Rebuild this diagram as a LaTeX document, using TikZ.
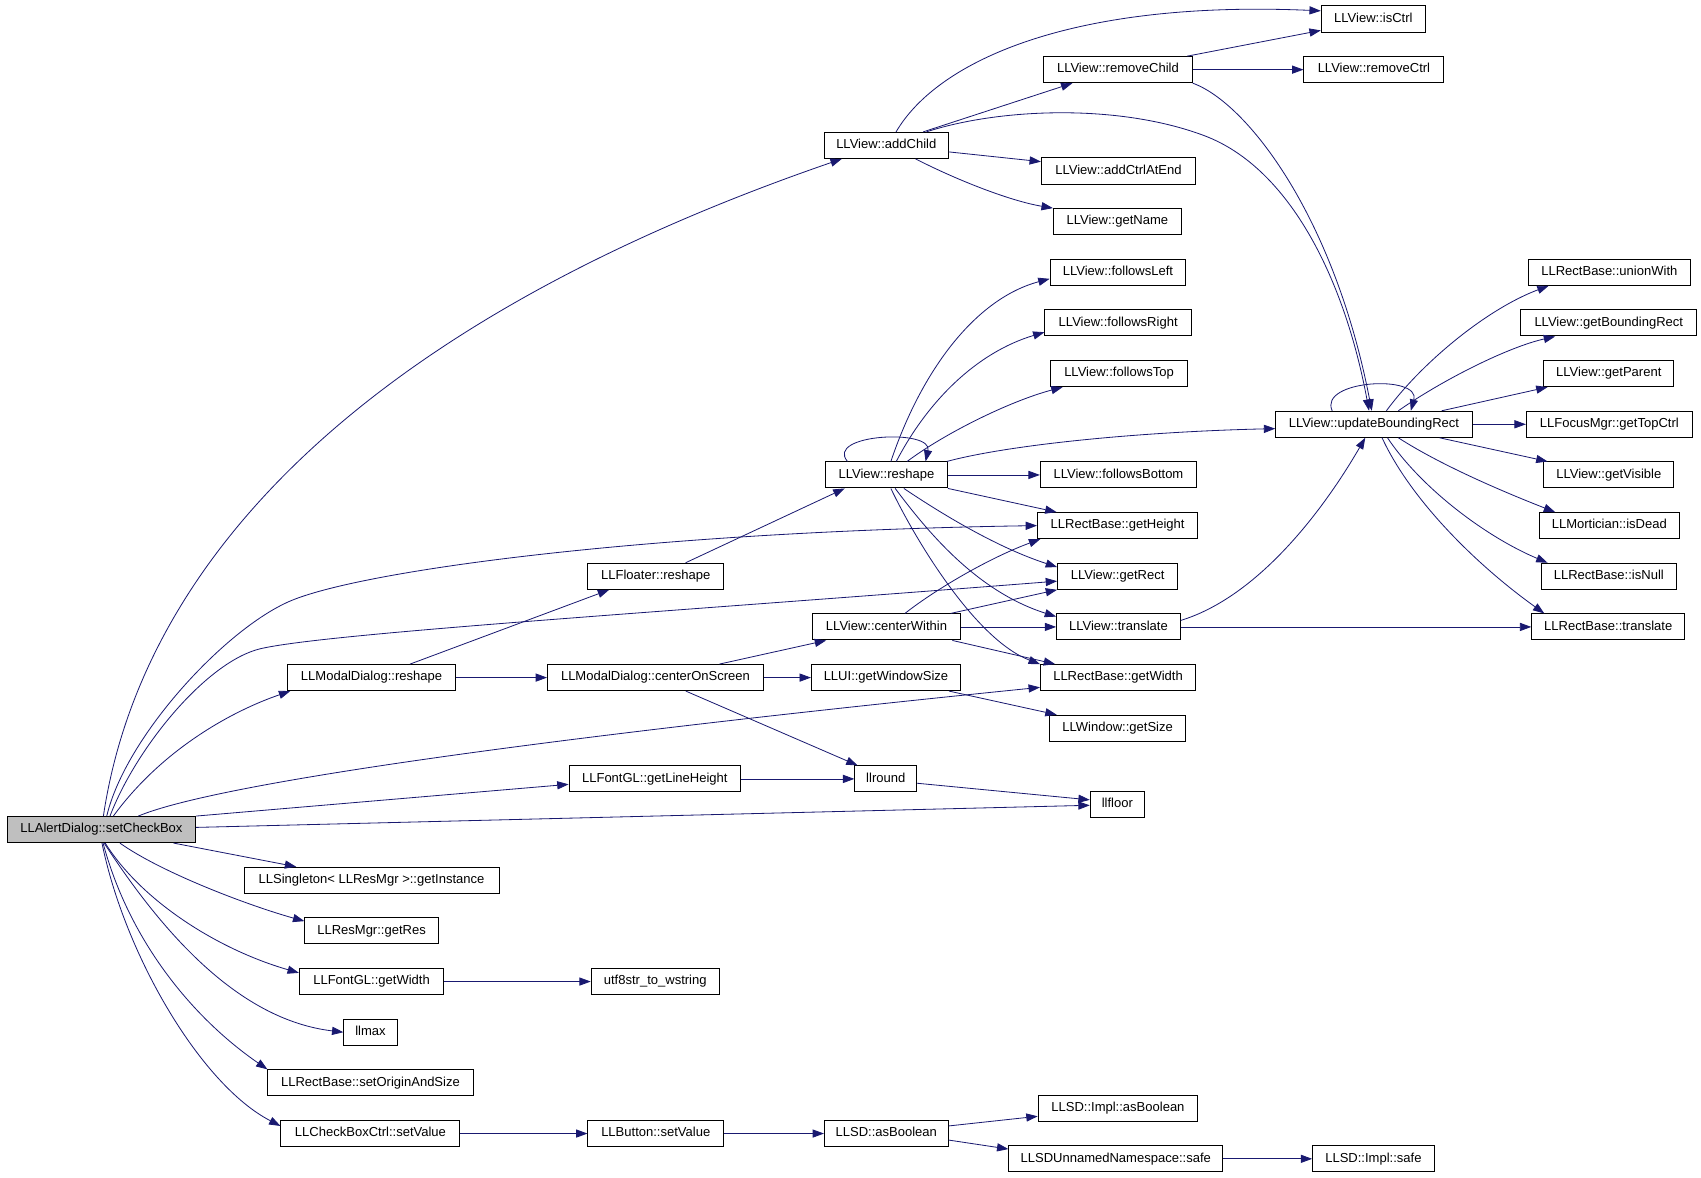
\documentclass[tikz,border=0pt]{standalone}
\usepackage{fontspec}
\setmainfont{Liberation Sans}
\usetikzlibrary{arrows.meta,calc}
\definecolor{edgec}{RGB}{25,25,112}
\definecolor{rootfill}{RGB}{191,191,191}
\tikzset{
  fn/.style={draw=black, line width=0.9pt, rectangle, minimum height=24pt,
    inner xsep=2pt, inner ysep=0pt, text height=8.7pt, text depth=2.6pt,
    font=\fontsize{12}{14}\selectfont, anchor=center},
  rootfn/.style={fn, fill=rootfill},
  call/.style={draw=edgec, line width=0.75pt, -{Triangle[length=10.5pt,width=7.5pt]}}
}
\begin{document}
\begin{tikzpicture}[x=1pt,y=-1pt]
\useasboundingbox (0,0) rectangle (1568,1085);
% nodes
\node[rootfn, minimum width=173.5pt] (S) at (93.5,764.7) {LLAlertDialog::setCheckBox};
\node[fn, minimum width=114pt] (addChild) at (817,134) {LLView::addChild};
\node[fn, minimum width=96pt] (isCtrl) at (1266,17.5) {LLView::isCtrl};
\node[fn, minimum width=137pt] (removeChild) at (1030.5,64.2) {LLView::removeChild};
\node[fn, minimum width=129pt] (removeCtrl) at (1266.5,64.2) {LLView::removeCtrl};
\node[fn, minimum width=142pt] (addCtrlAtEnd) at (1031,157.6) {LLView::addCtrlAtEnd};
\node[fn, minimum width=118pt] (getName) at (1030,204.3) {LLView::getName};
\node[fn, minimum width=125pt] (followsLeft) at (1030.5,251) {LLView::followsLeft};
\node[fn, minimum width=135pt] (followsRight) at (1030.75,297.7) {LLView::followsRight};
\node[fn, minimum width=127pt] (followsTop) at (1031.5,344.4) {LLView::followsTop};
\node[fn, minimum width=181pt] (updBR) at (1266.5,391.1) {LLView::updateBoundingRect};
\node[fn, minimum width=149pt] (unionWith) at (1483.5,251) {LLRectBase::unionWith};
\node[fn, minimum width=162pt] (getBR) at (1483,297.7) {LLView::getBoundingRect};
\node[fn, minimum width=120pt] (getParent) at (1483,344.4) {LLView::getParent};
\node[fn, minimum width=153pt] (getTopCtrl) at (1483.5,391.1) {LLFocusMgr::getTopCtrl};
\node[fn, minimum width=112.4pt] (reshape) at (817.2,437.8) {LLView::reshape};
\node[fn, minimum width=144pt] (followsBottom) at (1031,437.8) {LLView::followsBottom};
\node[fn, minimum width=120pt] (getVisible) at (1483,437.8) {LLView::getVisible};
\node[fn, minimum width=147.6pt] (getHeight) at (1030.2,484.5) {LLRectBase::getHeight};
\node[fn, minimum width=129pt] (isDead) at (1483.5,484.5) {LLMortician::isDead};
\node[fn, minimum width=125pt] (floater) at (604.5,531.2) {LLFloater::reshape};
\node[fn, minimum width=110.6pt] (getRect) at (1030.2,531.2) {LLView::getRect};
\node[fn, minimum width=124pt] (isNull) at (1483,531.2) {LLRectBase::isNull};
\node[fn, minimum width=136.4pt] (centerWithin) at (817.2,577.9) {LLView::centerWithin};
\node[fn, minimum width=114pt] (translate) at (1031,577.9) {LLView::translate};
\node[fn, minimum width=141pt] (rtranslate) at (1482.5,577.9) {LLRectBase::translate};
\node[fn, minimum width=155pt] (mreshape) at (342.5,624.6) {LLModalDialog::reshape};
\node[fn, minimum width=199pt] (centerOn) at (604.2,624.6) {LLModalDialog::centerOnScreen};
\node[fn, minimum width=137.4pt] (winSize) at (816.7,624.6) {LLUI::getWindowSize};
\node[fn, minimum width=143pt] (getWidth) at (1030.6,624.6) {LLRectBase::getWidth};
\node[fn, minimum width=125.4pt] (getSize) at (1030.2,671.3) {LLWindow::getSize};
\node[fn, minimum width=158pt] (lineHeight) at (603.6,718) {LLFontGL::getLineHeight};
\node[fn, minimum width=57pt] (llround) at (816.5,718) {llround};
\node[fn, minimum width=50pt] (llfloor) at (1030,741.3) {llfloor};
\node[fn, minimum width=235pt] (getInstance) at (342.5,811.4) {LLSingleton< LLResMgr >::getInstance};
\node[fn, minimum width=123pt] (getRes) at (342.5,858.1) {LLResMgr::getRes};
\node[fn, minimum width=133pt] (fontWidth) at (342.5,904.8) {LLFontGL::getWidth};
\node[fn, minimum width=118pt] (utf8) at (604,904.8) {utf8str\_to\_wstring};
\node[fn, minimum width=49pt] (llmax) at (341.5,951.5) {llmax};
\node[fn, minimum width=189pt] (setOrigin) at (341.5,998.2) {LLRectBase::setOriginAndSize};
\node[fn, minimum width=165pt] (cbSet) at (341.5,1044.9) {LLCheckBoxCtrl::setValue};
\node[fn, minimum width=125pt] (btnSet) at (604.5,1044.9) {LLButton::setValue};
\node[fn, minimum width=114pt] (asBool) at (817,1044.9) {LLSD::asBoolean};
\node[fn, minimum width=147pt] (implAsBool) at (1030.5,1021.5) {LLSD::Impl::asBoolean};
\node[fn, minimum width=197pt] (unSafe) at (1028.5,1068.2) {LLSDUnnamedNamespace::safe};
\node[fn, minimum width=112pt] (implSafe) at (1266,1068.2) {LLSD::Impl::safe};
% edges from the root
\draw[call] ($(S.north)+(1.8,0)$) .. controls (130,520) and (330,300) .. ($(addChild.south)+(-41,0)$);
\draw[call] ($(S.north)+(11,0)$) .. controls (150,690) and (215,655) .. ($(mreshape.south west)+(3,0)$);
\draw[call] ($(S.north)+(4.9,0)$) .. controls (116,678) and (210,577) .. (270,553) .. controls (340,525) and (600,490) .. (getHeight.west);
\draw[call] ($(S.north)+(7.9,0)$) .. controls (125,690) and (190,610) .. (240,598) .. controls (300,584) and (600,565) .. ($(getRect.west)+(0,4.5)$);
\draw[call] ($(S.north)+(34,0)$) .. controls (200,722) and (500,680) .. ($(getWidth.west)+(0,9)$);
\draw[call] (S.north east) -- ($(lineHeight.west)+(0,5)$);
\draw[call] ($(S.east)+(0,-2)$) -- ($(llfloor.west)+(0,1)$);
\draw[call] ($(S.south)+(66.5,0)$) -- ($(getInstance.north west)+(48.5,0)$);
\draw[call] ($(S.south)+(17,0)$) .. controls (150,805) and (230,835) .. ($(getRes.west)+(0,-9)$);
\draw[call] ($(S.south)+(3.5,0)$) .. controls (130,830) and (200,875) .. ($(fontWidth.west)+(0,-8)$);
\draw[call] ($(S.south)+(2.5,0)$) .. controls (150,860) and (220,940) .. (llmax.west);
\draw[call] ($(S.south)+(1.5,0)$) .. controls (120,870) and (180,940) .. (setOrigin.north west);
\draw[call] ($(S.south)+(0.5,0)$) .. controls (115,880) and (185,1000) .. ($(cbSet.west)+(0,-7)$);
% second column
\draw[call] ($(mreshape.north)+(35.5,0)$) -- ($(floater.south west)+(20,0)$);
\draw[call] (mreshape.east) -- (centerOn.west);
\draw[call] (fontWidth.east) -- (utf8.west);
\draw[call] (cbSet.east) -- (btnSet.west);
% third column
\draw[call] ($(floater.north)+(27.5,0)$) -- ($(reshape.south west)+(18,0)$);
\draw[call] ($(centerOn.north)+(59,0)$) -- ($(centerWithin.south west)+(13,0)$);
\draw[call] (centerOn.east) -- (winSize.west);
\draw[call] ($(centerOn.south)+(28,0)$) -- ($(llround.north west)+(3,0)$);
\draw[call] (lineHeight.east) -- (llround.west);
\draw[call] (btnSet.east) -- (asBool.west);
% addChild
\draw[call] ($(addChild.north)+(9,0)$) .. controls (865,55) and (990,0) .. ($(isCtrl.west)+(0,-7.5)$);
\draw[call] ($(addChild.north)+(34,0)$) -- ($(removeChild.south west)+(27,0)$);
\draw[call] ($(addChild.north)+(37,0)$) .. controls (920,100) and (1030,95) .. (1110,125) .. controls (1190,155) and (1240,260) .. ($(updBR.north)+(-4.5,0)$);
\draw[call] ($(addChild.east)+(0,6)$) -- ($(addCtrlAtEnd.west)+(0,-8.6)$);
\draw[call] ($(addChild.south)+(27,0)$) .. controls (880,165) and (930,185) .. (getName.north west);
% removeChild
\draw[call] ($(removeChild.north east)+(-5,0)$) -- ($(isCtrl.west)+(0,10.5)$);
\draw[call] (removeChild.east) -- (removeCtrl.west);
\draw[call] (removeChild.south east) .. controls (1150,95) and (1230,200) .. ($(updBR.north)+(-2,0)$);
% LLView::reshape
\draw[call] ($(reshape.north)+(-36,0)$) .. controls (760,400) and (860,395) .. ($(reshape.north)+(36,0)$);
\draw[call] ($(reshape.north)+(4,0)$) .. controls (850,340) and (900,275) .. ($(followsLeft.west)+(0,6)$);
\draw[call] ($(reshape.north)+(9,0)$) .. controls (855,370) and (900,325) .. ($(followsRight.west)+(0,8.5)$);
\draw[call] ($(reshape.north)+(19,0)$) .. controls (870,400) and (930,370) .. ($(followsTop.south west)+(12,0)$);
\draw[call] ($(reshape.north east)+(-1,0)$) .. controls (930,410) and (1050,398) .. ($(updBR.west)+(0,4)$);
\draw[call] (reshape.east) -- (followsBottom.west);
\draw[call] (reshape.south east) -- ($(getHeight.north west)+(18,0)$);
\draw[call] ($(reshape.south)+(16,0)$) .. controls (870,475) and (920,505) .. ($(getRect.west)+(0,-8.5)$);
\draw[call] ($(reshape.south)+(8,0)$) .. controls (855,490) and (900,545) .. ($(translate.west)+(0,-9.5)$);
\draw[call] ($(reshape.south)+(4,0)$) .. controls (845,500) and (900,590) .. (getWidth.north west);
% centerWithin
\draw[call] ($(centerWithin.north)+(17,0)$) .. controls (860,545) and (910,515) .. ($(getHeight.south west)+(3,0)$);
\draw[call] ($(centerWithin.north east)+(-9.5,0)$) -- (getRect.south west);
\draw[call] (centerWithin.east) -- (translate.west);
\draw[call] ($(centerWithin.south east)+(-8,0)$) -- ($(getWidth.north west)+(14,0)$);
\draw[call] ($(winSize.south east)+(-11,0)$) -- ($(getSize.north west)+(7,0)$);
\draw[call] ($(llround.east)+(0,4)$) -- ($(llfloor.west)+(0,-4)$);
% translate
\draw[call] ($(translate.east)+(0,-6)$) .. controls (1160,550) and (1220,470) .. ($(updBR.south)+(-8,0)$);
\draw[call] (translate.east) -- (rtranslate.west);
% updateBoundingRect
\draw[call] ($(updBR.north)+(-38.5,0)$) .. controls (1215,350) and (1310,345) .. ($(updBR.north)+(34,0)$);
\draw[call] ($(updBR.north)+(11.5,0)$) .. controls (1310,335) and (1370,285) .. ($(unionWith.south west)+(19,0)$);
\draw[call] ($(updBR.north)+(22.5,0)$) .. controls (1330,350) and (1390,320) .. ($(getBR.south west)+(32,0)$);
\draw[call] ($(updBR.north)+(62.5,0)$) -- ($(getParent.south west)+(4,0)$);
\draw[call] (updBR.east) -- (getTopCtrl.west);
\draw[call] ($(updBR.south)+(60.5,0)$) -- ($(getVisible.north west)+(4,0)$);
\draw[call] ($(updBR.south)+(22.5,0)$) .. controls (1330,430) and (1390,455) .. ($(isDead.north west)+(15,0)$);
\draw[call] ($(updBR.south)+(12.5,0)$) .. controls (1310,450) and (1370,495) .. ($(isNull.north west)+(6,0)$);
\draw[call] ($(updBR.south)+(7.5,0)$) .. controls (1300,460) and (1360,520) .. ($(rtranslate.north west)+(12,0)$);
% LLSD
\draw[call] ($(asBool.east)+(0,-7)$) -- ($(implAsBool.west)+(0,7.5)$);
\draw[call] ($(asBool.east)+(0,6)$) -- ($(unSafe.west)+(0,-9)$);
\draw[call] (unSafe.east) -- (implSafe.west);
\end{tikzpicture}
\end{document}
